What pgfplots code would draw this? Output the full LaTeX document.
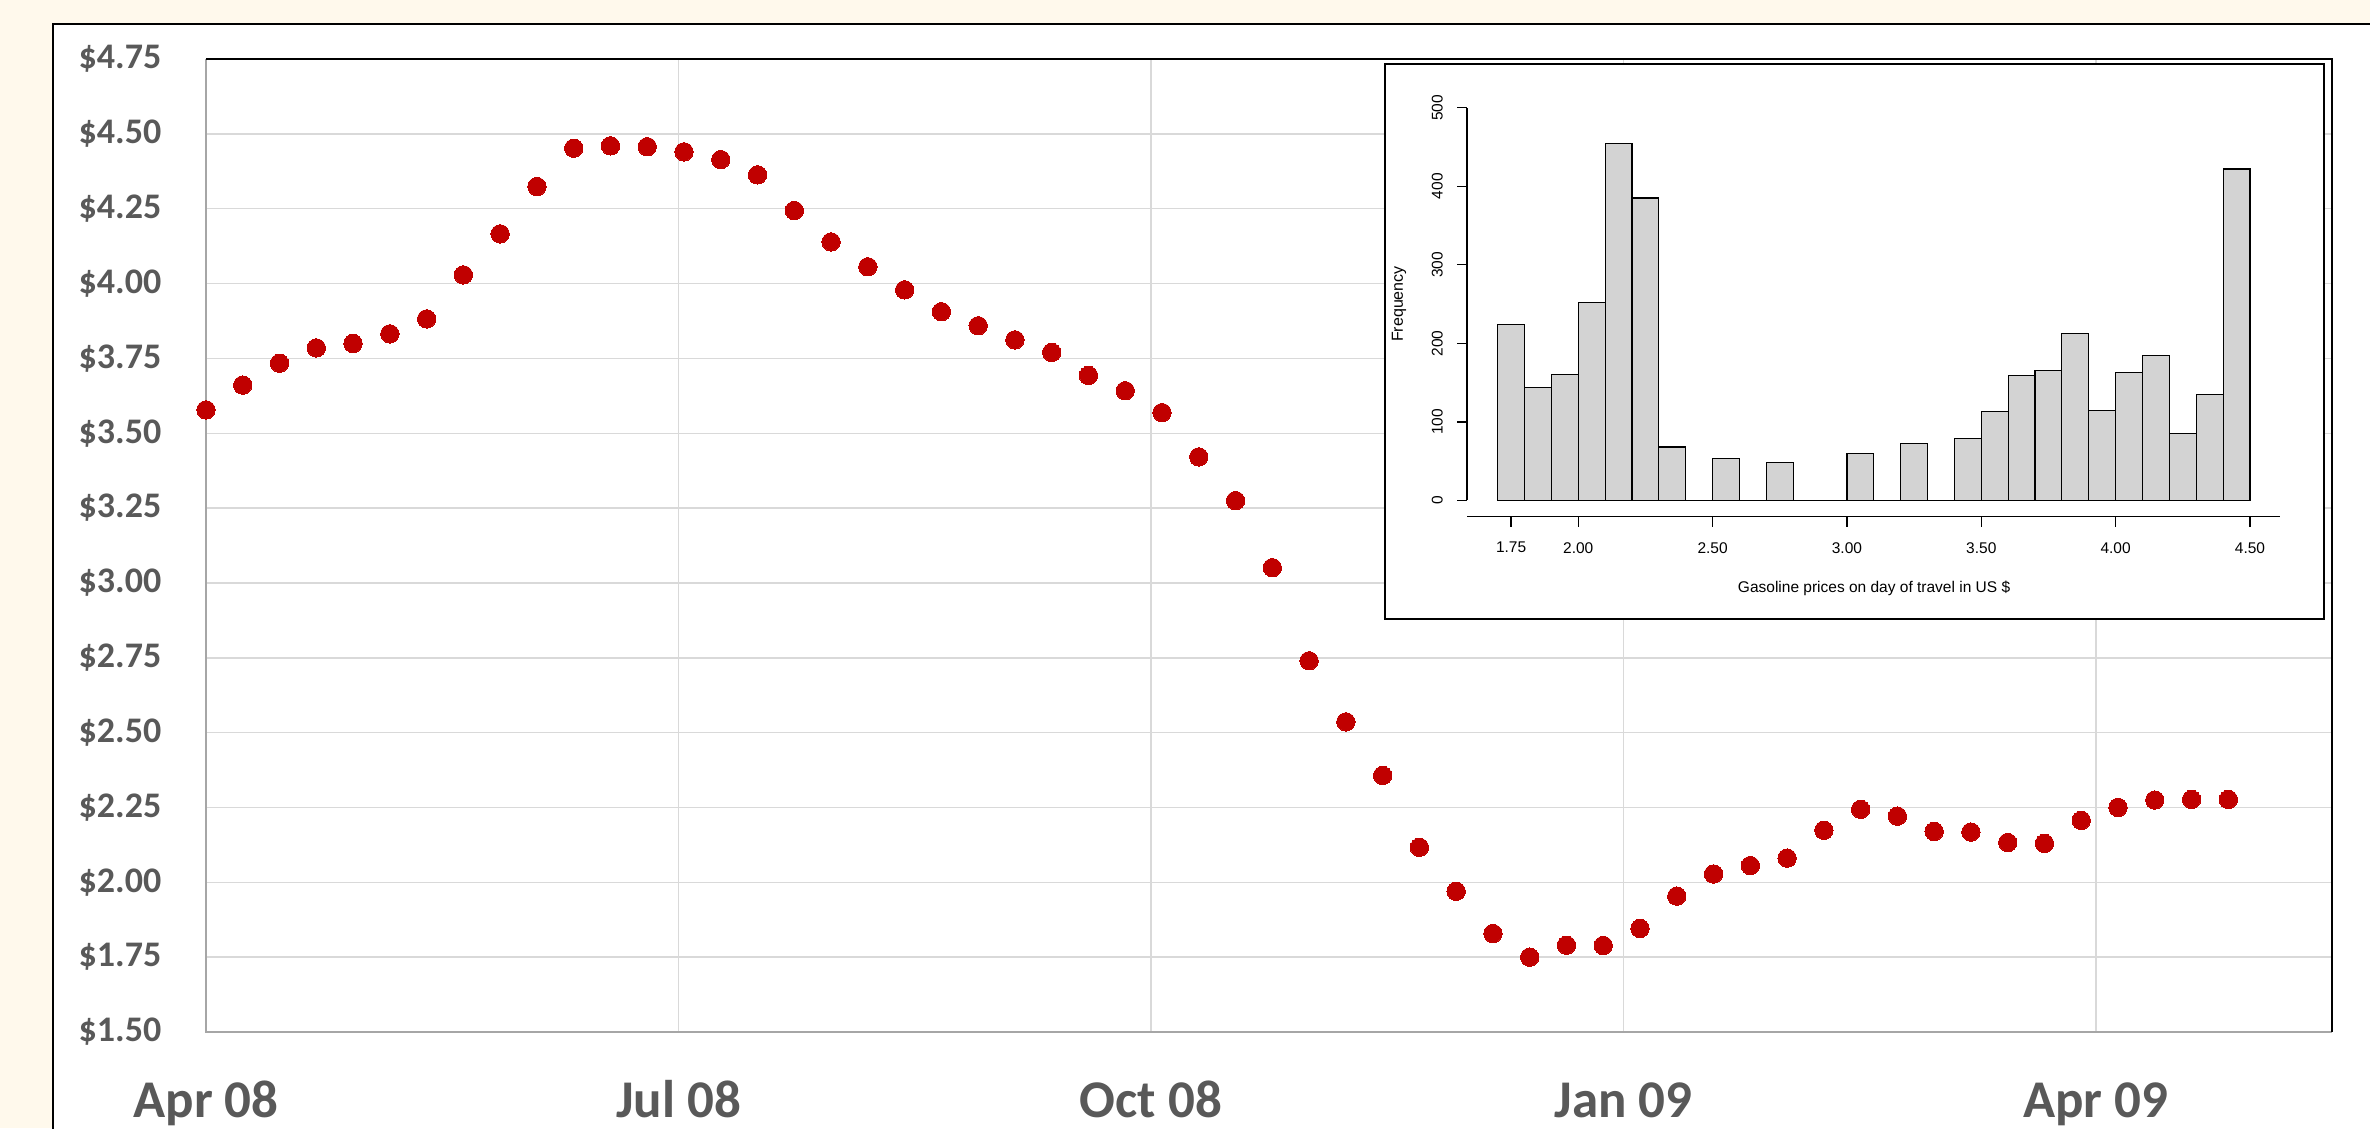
\documentclass[border=0pt]{standalone}
\usepackage{pgfplots}
\pgfplotsset{compat=1.18}
\usepackage{fontspec}
\setmainfont{Carlito}
\newfontfamily\arialfont{Liberation Sans}
\definecolor{cream}{HTML}{FFF9EC}
\definecolor{dotred}{HTML}{C00000}
\definecolor{txtgray}{HTML}{595959}
\definecolor{gridgray}{HTML}{D9D9D9}
\definecolor{axgray}{HTML}{A6A6A6}
\definecolor{barfill}{HTML}{D3D3D3}
\pgfplotstableread{
idx price
0 3.578
1 3.661
2 3.734
3 3.785
4 3.800
5 3.832
6 3.882
7 4.029
8 4.166
9 4.324
10 4.452
11 4.460
12 4.457
13 4.440
14 4.414
15 4.363
16 4.244
17 4.139
18 4.056
19 3.979
20 3.906
21 3.859
22 3.812
23 3.770
24 3.693
25 3.642
26 3.569
27 3.421
28 3.275
29 3.051
30 2.740
31 2.536
32 2.357
33 2.117
34 1.970
35 1.829
36 1.750
37 1.790
38 1.789
39 1.846
40 1.954
41 2.028
42 2.056
43 2.081
44 2.174
45 2.244
46 2.221
47 2.170
48 2.168
49 2.133
50 2.130
51 2.207
52 2.250
53 2.275
54 2.277
55 2.277
}\prices
\pgfplotstableread{
left freq
1.7 224
1.8 144
1.9 160
2.0 252
2.1 454
2.2 385
2.3 68
2.4 0
2.5 53
2.6 0
2.7 48
2.8 0
2.9 0
3.0 60
3.1 0
3.2 72
3.3 0
3.4 79
3.5 113
3.6 159
3.7 165
3.8 213
3.9 115
4.0 163
4.1 185
4.2 85
4.3 135
4.4 422
4.5 422
}\hist
\begin{document}
\begin{tikzpicture}
\useasboundingbox (0,0) rectangle (711pt,-338.4pt);
\clip (0,0) rectangle (711pt,-338.4pt);
\fill[cream] (0,0) rectangle (711pt,-338.4pt);
\filldraw[fill=white, draw=black, line width=0.6pt] (15.9pt,-7.2pt) rectangle (740pt,-370pt);
\begin{axis}[
  at={(61.8pt,-309.6pt)}, anchor=south west,
  scale only axis, width=637.8pt, height=291.9pt,
  xmin=0, xmax=57.82, ymin=1.5, ymax=4.75,
  clip=false,
  axis line style={draw=none},
  major tick length=0pt,
  grid=major,
  major grid style={draw=gridgray, line width=0.45pt},
  xtick={0,12.85,25.7,38.55,51.4},
  xticklabels={Apr 08,Jul 08,Oct 08,Jan 09,Apr 09},
  ytick={1.5,1.75,2,2.25,2.5,2.75,3,3.25,3.5,3.75,4,4.25,4.5,4.75},
  yticklabels={\$1.50,\$1.75,\$2.00,\$2.25,\$2.50,\$2.75,\$3.00,\$3.25,\$3.50,\$3.75,\$4.00,\$4.25,\$4.50,\$4.75},
  yticklabel style={font=\bfseries\fontsize{10.8}{12}\selectfont, text=txtgray, anchor=east, inner sep=0pt, xshift=-13.2pt},
  xticklabel style={font=\bfseries\fontsize{15.9}{18}\selectfont, text=txtgray, anchor=base, inner sep=0pt, yshift=-25.5pt},
]
\draw[axgray, line width=0.6pt] (rel axis cs:0,1) -- (rel axis cs:0,0) -- (rel axis cs:1,0);
\draw[black, line width=0.6pt] (rel axis cs:0,1) -- (rel axis cs:1,1) -- (rel axis cs:1,0);
\addplot[only marks, color=dotred, mark=*, mark size=2.76pt, mark options={draw=dotred, fill=dotred, line width=0pt}] table[x=idx, y=price] {\prices};
\end{axis}
\filldraw[fill=white, draw=black, line width=0.75pt] (415.5pt,-19.2pt) rectangle (697.2pt,-185.7pt);
\begin{axis}[
  at={(440.1pt,-154.98pt)}, anchor=south west,
  scale only axis, width=243.75pt, height=122.67pt,
  xmin=1.586, xmax=4.61, ymin=-20.6, ymax=500,
  clip=false,
  axis lines*=left,
  axis line style={-, black, line width=0.4pt},
  y axis line style={draw=none},
  tick align=outside,
  major tick length=3pt,
  every tick/.style={black, line width=0.4pt},
  xtick={1.75,2,2.5,3,3.5,4,4.5},
  xticklabels={1.75,2.00,2.50,3.00,3.50,4.00,4.50},
  ytick={0,100,200,300,400,500},
  yticklabels={0,100,200,300,400,500},
  xticklabel style={font=\arialfont\fontsize{4.65}{5.5}\selectfont, anchor=north, inner sep=0pt, yshift=-4.5pt},
  yticklabel style={font=\arialfont\fontsize{4.65}{5.5}\selectfont, xshift=-4.05pt, rotate=90, anchor=south, inner sep=0pt},
]
\draw[black, line width=0.4pt] (axis cs:1.586,0) -- (axis cs:1.586,500);
\addplot[ybar interval, fill=barfill, draw=black, line width=0.35pt] table[x=left, y=freq] {\hist};
\node[rotate=90, font=\arialfont\fontsize{4.8}{5.5}\selectfont] at (axis cs:1.333,250) {Frequency};
\node[font=\arialfont\fontsize{4.65}{5.5}\selectfont] at (axis cs:3.101,-111.5) {Gasoline prices on day of travel in US \$};
\end{axis}
\end{tikzpicture}
\end{document}
